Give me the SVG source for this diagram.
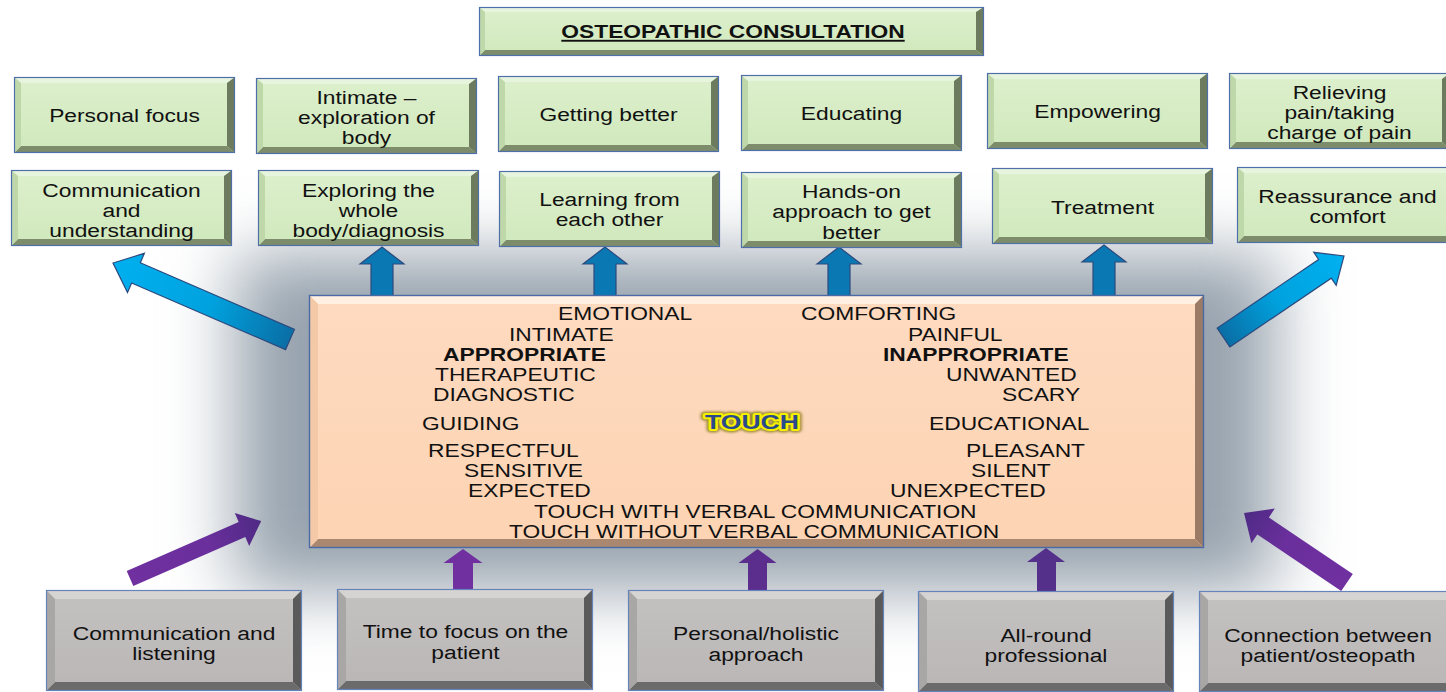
<svg xmlns="http://www.w3.org/2000/svg" xmlns:xlink="http://www.w3.org/1999/xlink" width="1446" height="692" viewBox="0 0 1446 692">
<style>
.lb{font-family:"Liberation Sans",Arial,sans-serif;font-size:19px;fill:#111;text-anchor:middle}
.ct{font-family:"Liberation Sans",Arial,sans-serif;font-size:19px;fill:#111}
.b{font-weight:bold}
.upb{fill:#0a78b2;stroke:#2c4a7e;stroke-width:1.2}
.upp{stroke:none}
</style>
<defs>
<filter id="blur" x="-20%" y="-30%" width="140%" height="160%"><feGaussianBlur stdDeviation="34"/></filter>
<filter id="tglow" x="-20%" y="-50%" width="140%" height="200%"><feGaussianBlur stdDeviation="1.2"/></filter>
<linearGradient id="gFace" x1="0" y1="0" x2="0" y2="1"><stop offset="0" stop-color="#ddf0cd"/><stop offset="1" stop-color="#d0e8bc"/></linearGradient>
<linearGradient id="grFace" x1="0" y1="0" x2="0" y2="1"><stop offset="0" stop-color="#c4c1c1"/><stop offset="1" stop-color="#bab6b6"/></linearGradient>
<linearGradient id="pFace" x1="0" y1="0" x2="0" y2="1"><stop offset="0" stop-color="#fedac0"/><stop offset="1" stop-color="#fdd4b3"/></linearGradient>
<linearGradient id="blueL" gradientUnits="userSpaceOnUse" x1="290" y1="340" x2="113" y2="263"><stop offset="0" stop-color="#0a6ea5"/><stop offset="0.45" stop-color="#00a2de"/><stop offset="1" stop-color="#00b0f0"/></linearGradient>
<linearGradient id="blueR" gradientUnits="userSpaceOnUse" x1="1223" y1="337" x2="1344" y2="256"><stop offset="0" stop-color="#0a6ea5"/><stop offset="0.45" stop-color="#00a2de"/><stop offset="1" stop-color="#00b0f0"/></linearGradient>
<linearGradient id="purL" gradientUnits="userSpaceOnUse" x1="130" y1="578" x2="261" y2="521"><stop offset="0" stop-color="#7030a0"/><stop offset="0.6" stop-color="#6a2f9c"/><stop offset="1" stop-color="#4e2a84"/></linearGradient>
<linearGradient id="purR" gradientUnits="userSpaceOnUse" x1="1347" y1="582" x2="1244" y2="513"><stop offset="0" stop-color="#7030a0"/><stop offset="0.6" stop-color="#6a2f9c"/><stop offset="1" stop-color="#4e2a84"/></linearGradient>
<g id="gb">
<rect width="221" height="76" fill="url(#gFace)"/>
<path d="M0 0H221L214 6H7Z" fill="#e8f5de"/>
<path d="M221 0V76L213 69V6Z" fill="#6c7b5d"/>
<path d="M0 76H221L213 69H7Z" fill="#7d8c6b"/>
<path d="M0 0L7 6V69L0 76Z" fill="#bfd8aa"/>
<rect x="0.5" y="0.5" width="220" height="75" fill="none" stroke="#4f6fa8" stroke-width="1.2"/>
</g>
<g id="grb">
<rect width="256" height="101" fill="url(#grFace)"/>
<path d="M0 0H256L247 9H9Z" fill="#d6d3d3"/>
<path d="M256 0V101L247 92V9Z" fill="#5b5a5a"/>
<path d="M0 101H256L247 92H9Z" fill="#6c6b6b"/>
<path d="M0 0L9 9V92L0 101Z" fill="#a9a6a6"/>
<rect x="0.5" y="0.5" width="255" height="100" fill="none" stroke="#6584bb" stroke-width="1.2"/>
</g>
</defs>
<rect width="1446" height="692" fill="#ffffff"/>
<rect x="235" y="255" width="1040" height="335" fill="#97a3ae" filter="url(#blur)"/>

<g id="connectors">
<path class="upb" d="M371 297V264H360L382 247L404 264H393V297Z"/>
<path class="upb" d="M594 297V264H583L605 247L627 264H616V297Z"/>
<path class="upb" d="M828 297V264H817L839 247L861 264H850V297Z"/>
<path class="upb" d="M1093 297V262H1082L1104 245L1126 262H1115V297Z"/>
<path d="M294.4 329.4L140.3 262.8L144.4 253.3L113 263L127.5 292.6L131.6 283L285.6 349.6Z" fill="url(#blueL)" stroke="#2c4a7e" stroke-width="1.2"/>
<path d="M1229.8 346.9L1331.3 278.2L1336.2 285.4L1344 256L1313.8 252.3L1318.6 259.5L1217.2 328.1Z" fill="url(#blueR)" stroke="#2c4a7e" stroke-width="1.2"/>
<path d="M453 590V563H443.5L463 549L482.5 563H473V590Z" fill="#7030a0"/>
<path d="M748 591V563H738.5L757.5 549L776.5 563H767V591Z" fill="#5b2d8c"/>
<path d="M1037 592V562H1027L1046 548L1065 562H1056V592Z" fill="#55308a"/>
<path d="M133.3 586L245.3 537L249.2 546L261.2 521.1L234.8 513L238.7 522L126.7 571Z" fill="url(#purL)"/>
<path d="M1352.8 574L1268.9 517.4L1274.8 508.5L1244 513L1251.4 543.3L1257.3 534.4L1341.2 591Z" fill="url(#purR)"/>
</g>

<g id="title">
<rect x="479" y="7" width="505" height="49" fill="url(#gFace)"/>
<path d="M479 7H984L977 12H485Z" fill="#e8f5de"/>
<path d="M984 7V56L976 50V12Z" fill="#6c7b5d"/>
<path d="M479 56H984L976 50H485Z" fill="#7d8c6b"/>
<path d="M479 7L485 12V50L479 56Z" fill="#bfd8aa"/>
<rect x="479.5" y="7.5" width="504" height="48" fill="none" stroke="#4f6fa8" stroke-width="1.2"/>
<text class="lb b" transform="translate(733 38) scale(1.2 1)" text-decoration="underline">OSTEOPATHIC CONSULTATION</text>
</g>

<g id="personal-focus"><use xlink:href="#gb" x="14" y="77"/><text class="lb" transform="translate(124.5 122) scale(1.2 1)">Personal focus</text></g>
<g id="intimate"><use xlink:href="#gb" x="256" y="78"/><text class="lb" transform="translate(366.5 104) scale(1.2 1)"><tspan x="0">Intimate –</tspan><tspan x="0" dy="20">exploration of</tspan><tspan x="0" dy="20">body</tspan></text></g>
<g id="getting-better"><use xlink:href="#gb" x="498" y="76"/><text class="lb" transform="translate(608.5 121) scale(1.2 1)">Getting better</text></g>
<g id="educating"><use xlink:href="#gb" x="741" y="75"/><text class="lb" transform="translate(851.5 120) scale(1.2 1)">Educating</text></g>
<g id="empowering"><use xlink:href="#gb" x="987" y="73"/><text class="lb" transform="translate(1097.5 118) scale(1.2 1)">Empowering</text></g>
<g id="relieving"><use xlink:href="#gb" x="1229" y="73"/><text class="lb" transform="translate(1339.5 99) scale(1.2 1)"><tspan x="0">Relieving</tspan><tspan x="0" dy="20">pain/taking</tspan><tspan x="0" dy="20">charge of pain</tspan></text></g>

<g id="communication-understanding"><use xlink:href="#gb" x="11" y="170"/><text class="lb" transform="translate(121.5 197) scale(1.2 1)"><tspan x="0">Communication</tspan><tspan x="0" dy="20">and</tspan><tspan x="0" dy="20">understanding</tspan></text></g>
<g id="exploring"><use xlink:href="#gb" x="258" y="170"/><text class="lb" transform="translate(368.5 197) scale(1.2 1)"><tspan x="0">Exploring the</tspan><tspan x="0" dy="20">whole</tspan><tspan x="0" dy="20">body/diagnosis</tspan></text></g>
<g id="learning"><use xlink:href="#gb" x="499" y="171"/><text class="lb" transform="translate(609.5 206) scale(1.2 1)"><tspan x="0">Learning from</tspan><tspan x="0" dy="20">each other</tspan></text></g>
<g id="hands-on"><use xlink:href="#gb" x="741" y="172"/><text class="lb" transform="translate(851.5 198) scale(1.2 1)"><tspan x="0">Hands-on</tspan><tspan x="0" dy="20.5">approach to get</tspan><tspan x="0" dy="20.5">better</tspan></text></g>
<g id="treatment"><use xlink:href="#gb" x="992" y="168"/><text class="lb" transform="translate(1102.5 214) scale(1.2 1)">Treatment</text></g>
<g id="reassurance"><use xlink:href="#gb" x="1237" y="167"/><text class="lb" transform="translate(1347.5 203) scale(1.2 1)"><tspan x="0">Reassurance and</tspan><tspan x="0" dy="20">comfort</tspan></text></g>

<g id="touch-box">
<rect x="309" y="295" width="895" height="253" fill="url(#pFace)"/>
<path d="M309 295H1204L1195 304H318Z" fill="#fff0e2"/>
<path d="M1204 295V548L1195 539V304Z" fill="#9b7b66"/>
<path d="M309 548H1204L1195 539H318Z" fill="#aa8870"/>
<path d="M309 295L318 304V539L309 548Z" fill="#f3c9a8"/>
<rect x="309.5" y="295.5" width="894" height="252" fill="none" stroke="#4a6aa5" stroke-width="1.4"/>
<text class="ct" transform="translate(558 320) scale(1.2 1)">EMOTIONAL</text>
<text class="ct" transform="translate(801 320) scale(1.2 1)">COMFORTING</text>
<text class="ct" transform="translate(509 341) scale(1.2 1)">INTIMATE</text>
<text class="ct" transform="translate(908 341) scale(1.2 1)">PAINFUL</text>
<text class="ct b" transform="translate(443 361) scale(1.2 1)">APPROPRIATE</text>
<text class="ct b" transform="translate(883 361) scale(1.2 1)">INAPPROPRIATE</text>
<text class="ct" transform="translate(435 381) scale(1.2 1)">THERAPEUTIC</text>
<text class="ct" transform="translate(946 381) scale(1.2 1)">UNWANTED</text>
<text class="ct" transform="translate(433 401) scale(1.2 1)">DIAGNOSTIC</text>
<text class="ct" transform="translate(1002 401) scale(1.2 1)">SCARY</text>
<text class="ct" transform="translate(422 430) scale(1.2 1)">GUIDING</text>
<text class="ct" transform="translate(929 430) scale(1.2 1)">EDUCATIONAL</text>
<text class="ct" transform="translate(428 457) scale(1.2 1)">RESPECTFUL</text>
<text class="ct" transform="translate(966 457) scale(1.2 1)">PLEASANT</text>
<text class="ct" transform="translate(464 477) scale(1.2 1)">SENSITIVE</text>
<text class="ct" transform="translate(971 477) scale(1.2 1)">SILENT</text>
<text class="ct" transform="translate(468 497) scale(1.2 1)">EXPECTED</text>
<text class="ct" transform="translate(890 497) scale(1.2 1)">UNEXPECTED</text>
<text class="ct" transform="translate(534 518) scale(1.2 1)">TOUCH WITH VERBAL COMMUNICATION</text>
<text class="ct" transform="translate(509 538) scale(1.2 1)">TOUCH WITHOUT VERBAL COMMUNICATION</text>
<text class="lb b" transform="translate(752 429) scale(1.33 1)" font-size="20" style="font-size:20px;fill:#a08a3a;stroke:#a08a3a;stroke-width:7;stroke-linejoin:round" filter="url(#tglow)">TOUCH</text>
<text class="lb b" transform="translate(752 429) scale(1.33 1)" style="font-size:20px;fill:#2b4a8b;stroke:#f4f000;stroke-width:4;stroke-linejoin:round;paint-order:stroke">TOUCH</text>
</g>

<g id="communication-listening"><use xlink:href="#grb" x="46" y="590"/><text class="lb" transform="translate(174 640) scale(1.2 1)"><tspan x="0">Communication and</tspan><tspan x="0" dy="20">listening</tspan></text></g>
<g id="time-to-focus"><use xlink:href="#grb" x="337" y="589"/><text class="lb" transform="translate(465.5 638) scale(1.2 1)"><tspan x="0">Time to focus on the</tspan><tspan x="0" dy="21">patient</tspan></text></g>
<g id="personal-holistic"><use xlink:href="#grb" x="628" y="590"/><text class="lb" transform="translate(756 640) scale(1.2 1)"><tspan x="0">Personal/holistic</tspan><tspan x="0" dy="21">approach</tspan></text></g>
<g id="all-round"><use xlink:href="#grb" x="918" y="591"/><text class="lb" transform="translate(1046 642) scale(1.2 1)"><tspan x="0">All-round</tspan><tspan x="0" dy="20">professional</tspan></text></g>
<g id="connection"><use xlink:href="#grb" x="1199" y="591"/><text class="lb" transform="translate(1328 642) scale(1.2 1)"><tspan x="0">Connection between</tspan><tspan x="0" dy="20">patient/osteopath</tspan></text></g>
</svg>
